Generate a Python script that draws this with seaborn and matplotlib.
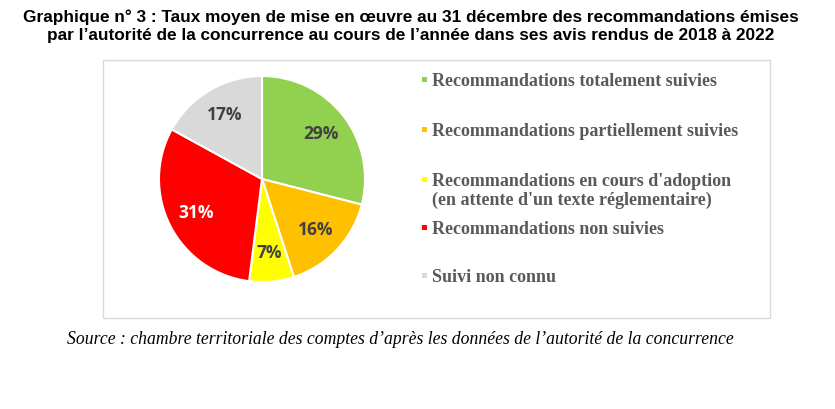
import matplotlib
matplotlib.use("Agg")
import matplotlib.pyplot as plt
import seaborn as sns
from matplotlib.patches import Rectangle

# --- données ---
categories = [
    "Recommandations totalement suivies",
    "Recommandations partiellement suivies",
    "Recommandations en cours d'adoption\n(en attente d'un texte réglementaire)",
    "Recommandations non suivies",
    "Suivi non connu",
]
parts = [29, 16, 7, 31, 17]
couleurs = ["#92D050", "#FFC000", "#FFFF00", "#FF0000", "#D9D9D9"]
couleurs_labels = ["#404040", "#404040", "#404040", "white", "#404040"]

titre = ("Graphique n° 3 : Taux moyen de mise en œuvre au 31 décembre des recommandations émises\n"
         "par l’autorité de la concurrence au cours de l’année dans ses avis rendus de 2018 à 2022")
source = "Source : chambre territoriale des comptes d’après les données de l’autorité de la concurrence"

sns.set_theme(style="white")
plt.rcParams["font.family"] = ["Liberation Sans", "DejaVu Sans"]

W, H = 835, 409
fig = plt.figure(figsize=(W / 100, H / 100), dpi=100)

# cadre du graphique
fig.patches.append(Rectangle((103 / W, 1 - 318 / H), 667 / W, 258 / H, transform=fig.transFigure,
                             fill=False, edgecolor="#D9D9D9", linewidth=1))

# --- camembert ---
cx, cy, r = 262, 179, 103
ax = fig.add_axes([(cx - r) / W, 1 - (cy + r) / H, 2 * r / W, 2 * r / H])
wedges, _, autotexts = ax.pie(
    parts, colors=couleurs, startangle=90, counterclock=False,
    autopct="%d%%", pctdistance=0.72,
    wedgeprops=dict(edgecolor="white", linewidth=1.5),
)
for t, c in zip(autotexts, couleurs_labels):
    t.set_color(c)
    t.set_fontweight("bold")
    t.set_fontsize(12.5)
    t.set_fontfamily(["Open Sans", "DejaVu Sans"])
ax.set_xlim(-1, 1)
ax.set_ylim(-1, 1)
ax.set_aspect("equal")

# --- légende ---
y_pos = [80, 130, 180, 228, 276]
for lab, col, y in zip(categories, couleurs, y_pos):
    yf = 1 - y / H
    fig.patches.append(Rectangle((422 / W, yf - 2 / H), 5 / W, 5 / H,
                                 transform=fig.transFigure, facecolor=col, edgecolor="none"))
    fig.text(432 / W, yf + 7 / H, lab, ha="left", va="top", fontsize=13,
             fontweight="bold", color="#595959", family=["Liberation Serif"],
             linespacing=1.1)

# --- titre et source ---
fig.text(411 / W, 1 - 9 / H, titre, ha="center", va="top", fontsize=12.4, fontweight="bold",
         color="black", linespacing=1.3)
fig.text(400 / W, 1 - 340 / H, source, ha="center", va="center", fontsize=12.7, style="italic",
         color="black", family=["Liberation Serif"])

fig.savefig("out.png", dpi=100)
